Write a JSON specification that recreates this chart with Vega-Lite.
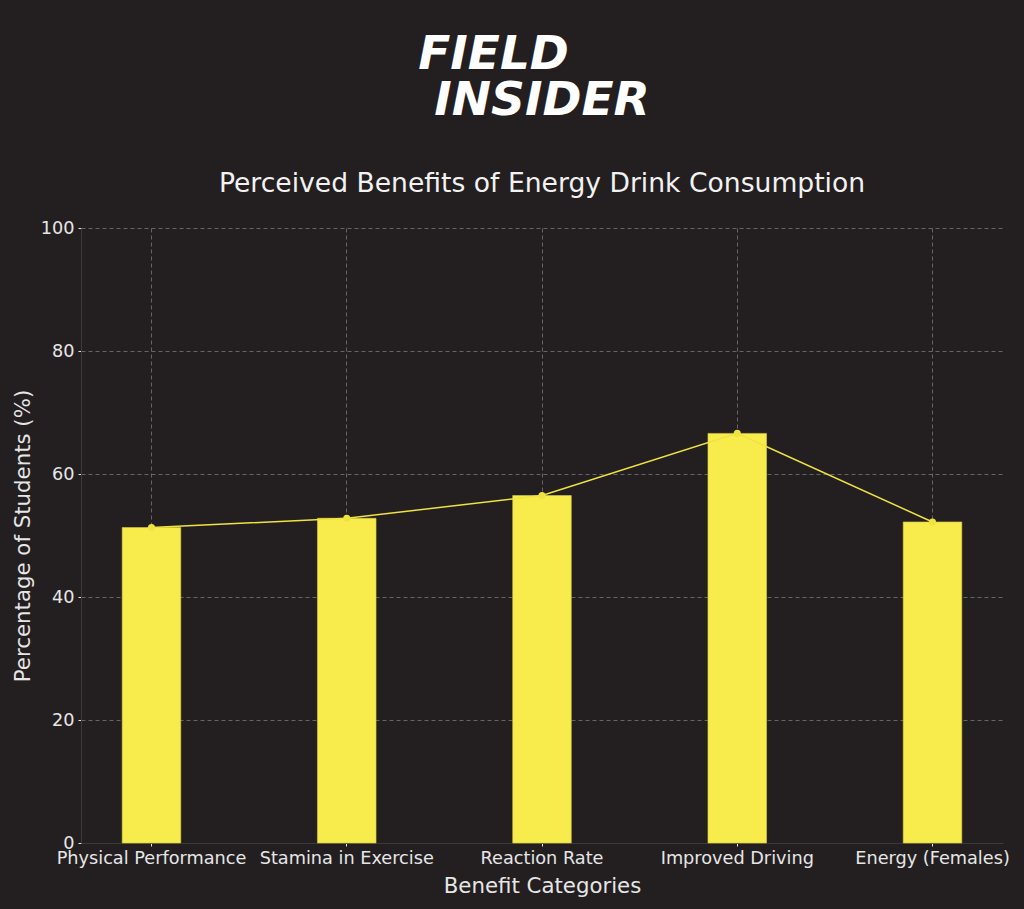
{
  "$schema": "https://vega.github.io/schema/vega-lite/v6.json",
  "width": 922,
  "height": 615,
  "autosize": {"type": "none"},
  "padding": {"left": 81, "top": 228, "right": 21, "bottom": 66},
  "background": "#231f20",
  "config": {"view": {"stroke": null}, "font": "DejaVu Sans"},
  "title": {
    "text": ["FIELD\u2800\u2002\u2800", "INSIDER"],
    "font": "DejaVu Sans",
    "fontSize": 47,
    "fontWeight": "bold",
    "fontStyle": "italic",
    "lineHeight": 46,
    "color": "#ffffff",
    "anchor": "middle",
    "subtitle": "Perceived Benefits of Energy Drink Consumption",
    "subtitleFont": "DejaVu Sans",
    "subtitleFontSize": 26.6,
    "subtitleColor": "#f2f2f2",
    "subtitlePadding": 46,
    "offset": 20
  },
  "data": {
    "values": [
      {"category": "Physical Performance", "percent": 51.3},
      {"category": "Stamina in Exercise", "percent": 52.8},
      {"category": "Reaction Rate", "percent": 56.5},
      {"category": "Improved Driving", "percent": 66.6},
      {"category": "Energy (Females)", "percent": 52.2}
    ]
  },
  "encoding": {
    "x": {
      "field": "category",
      "type": "nominal",
      "sort": null,
      "title": "Benefit Categories",
      "scale": {"paddingInner": 0.7, "paddingOuter": 0.211},
      "axis": {
        "bandPosition": 0.5,
        "grid": true,
        "gridColor": "#777777",
        "gridDash": [4, 3],
        "gridWidth": 1,
        "gridOpacity": 0.8,
        "labelAngle": 0,
        "labelFontSize": 17.7,
        "labelLimit": 0,
        "labelColor": "#e6e6e6",
        "labelPadding": 3,
        "titleFontSize": 21.3,
        "titleFontWeight": "normal",
        "titleColor": "#e6e6e6",
        "titlePadding": 9,
        "domainColor": "#3a3a3a",
        "tickColor": "#e6e6e6",
        "tickSize": 3
      }
    }
  },
  "layer": [
    {
      "mark": {"type": "bar", "color": "#f7ec4b", "stroke": "#d8cd3c", "strokeWidth": 0.6},
      "encoding": {
        "y": {
          "field": "percent",
          "type": "quantitative",
          "title": "Percentage of Students (%)",
          "scale": {"domain": [0, 100], "nice": false},
          "axis": {
            "values": [0, 20, 40, 60, 80, 100],
            "grid": true,
            "gridColor": "#777777",
            "gridDash": [4, 3],
            "gridWidth": 1,
            "gridOpacity": 0.8,
            "labelFontSize": 17.7,
            "labelColor": "#e6e6e6",
            "labelPadding": 4,
            "titleFontSize": 21.3,
            "titleFontWeight": "normal",
            "titleColor": "#e6e6e6",
            "titlePadding": 7,
            "domainColor": "#3a3a3a",
            "tickColor": "#e6e6e6",
            "tickSize": 3
          }
        }
      }
    },
    {
      "mark": {
        "type": "line",
        "color": "#f0e23f",
        "strokeWidth": 1.5,
        "point": {"filled": true, "color": "#f0e23f", "size": 50}
      },
      "encoding": {
        "y": {"field": "percent", "type": "quantitative"}
      }
    }
  ]
}
